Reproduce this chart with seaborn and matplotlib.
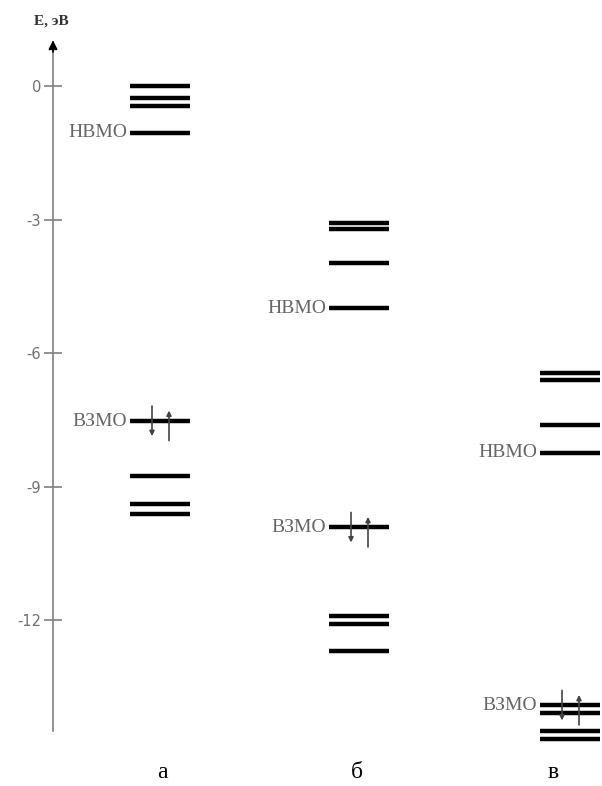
import matplotlib
matplotlib.use("Agg")
import matplotlib.pyplot as plt
import seaborn as sns
import pandas as pd

# energy levels (eV) for each molecule
panels = ["а", "б", "в"]
levels_a = [0.0, -0.28, -0.46, -1.05, -7.53, -8.77, -9.39, -9.62]
levels_b = [-3.07, -3.21, -3.98, -4.99, -9.92, -11.91, -12.09, -12.69]
levels_c = [-6.46, -6.61, -7.62, -8.24, -13.92, -14.08, -14.50, -14.68]
lumo = [-1.05, -4.99, -8.24]
homo = [-7.53, -9.92, -13.92]
yticks = [0, -3, -6, -9, -12]

col_x = [160, 359, 570]
half_w = 30

sns.set_style("white")
plt.rcParams["font.family"] = ["Liberation Serif", "DejaVu Serif"]

rows = []
for p, cx, levs in zip(panels, col_x, [levels_a, levels_b, levels_c]):
    for i, e in enumerate(levs):
        rows.append({"panel": p, "lvl": f"{p}{i}", "x": cx - half_w, "E": e})
        rows.append({"panel": p, "lvl": f"{p}{i}", "x": cx + half_w, "E": e})
df = pd.DataFrame(rows)

fig = plt.figure(figsize=(6.02, 7.86), dpi=100)
ax = fig.add_axes([0, 0, 1, 1])
ax.set_xlim(0, 602)
ax.set_ylim(-15.73, 1.933)

sns.lineplot(data=df, x="x", y="E", units="lvl", estimator=None,
             color="black", lw=3.2, solid_capstyle="butt", ax=ax, legend=False)

# energy axis
for s in ["top", "right", "bottom"]:
    ax.spines[s].set_visible(False)
ax.spines["left"].set_position(("data", 53))
ax.spines["left"].set_bounds(-14.5, 1.0)
ax.spines["left"].set_color("#808080")
ax.spines["left"].set_linewidth(1.2)
ax.set_xticks([])
ax.set_yticks(yticks)
ax.set_yticklabels([str(t) for t in yticks], family="DejaVu Sans",
                   color="#707070", fontsize=10.5)
ax.tick_params(axis="y", direction="inout", length=13, width=1.2,
               color="#808080", pad=2, left=True)
ax.set_xlabel("")
ax.set_ylabel("")
ax.annotate("", xy=(53, 1.09), xytext=(53, 0.7),
            arrowprops=dict(arrowstyle="-|>", color="black", lw=1.2,
                            mutation_scale=13))
ax.text(51, 1.46, "E, эВ", ha="center", va="center", fontsize=11,
        fontweight="bold", color="#333333")

# labels of frontier orbitals
for cx, e in zip(col_x, lumo):
    ax.text(cx - half_w - 3, e, "НВМО", ha="right", va="center",
            fontsize=14, color="#666666")
for cx, e in zip(col_x, homo):
    ax.text(cx - half_w - 3, e, "ВЗМО", ha="right", va="center",
            fontsize=14, color="#666666")

# electron pairs on HOMO
for cx, e in zip(col_x, homo):
    x1, x2 = cx - 8, cx + 9
    ax.annotate("", xy=(x1, e - 0.4), xytext=(x1, e + 0.4),
                arrowprops=dict(arrowstyle="-|>", color="#444444", lw=1.2,
                                mutation_scale=7))
    ax.annotate("", xy=(x2, e + 0.3), xytext=(x2, e - 0.5),
                arrowprops=dict(arrowstyle="-|>", color="#444444", lw=1.2,
                                mutation_scale=7))

# panel letters
for p, x in zip(panels, [162, 357, 553]):
    ax.text(x, -15.42, p, ha="center", va="center", fontsize=17,
            color="black")

fig.savefig("out.png", dpi=100)
